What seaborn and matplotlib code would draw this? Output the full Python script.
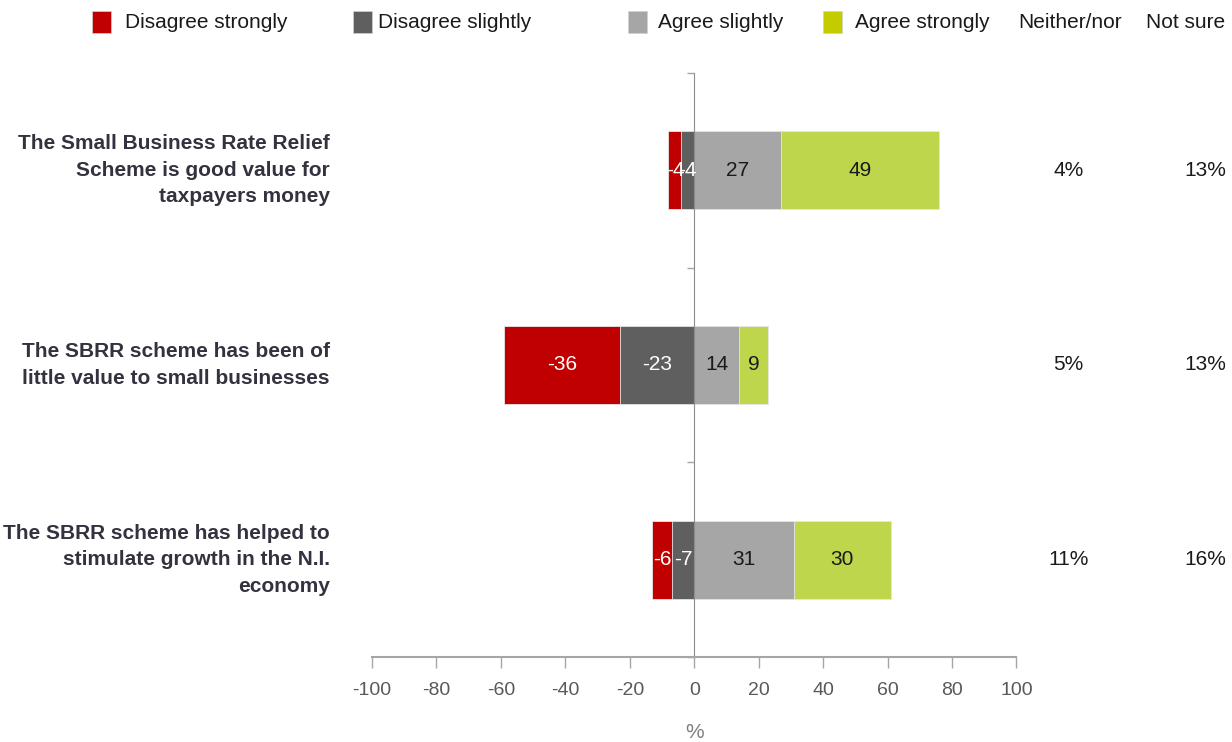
import matplotlib
matplotlib.use("Agg")
import matplotlib.pyplot as plt
import matplotlib.transforms as mtransforms
from matplotlib.patches import Rectangle
import pandas as pd
import seaborn as sns

# Data
statements = [
    "The Small Business Rate Relief\nScheme is good value for\ntaxpayers money",
    "The SBRR scheme has been of\nlittle value to small businesses",
    "The SBRR scheme has helped to\nstimulate growth in the N.I.\neconomy",
]
disagree_strongly = [-4, -36, -6]
disagree_slightly = [-4, -23, -7]
agree_slightly = [27, 14, 31]
agree_strongly = [49, 9, 30]
neither_nor = ["4%", "5%", "11%"]
not_sure = ["13%", "13%", "16%"]

series = ["Disagree strongly", "Disagree slightly", "Agree slightly", "Agree strongly"]
bar_colors = ["#C00000", "#5F5F5F", "#A6A6A6", "#BDD64B"]
legend_colors = ["#C00000", "#5F5F5F", "#A6A6A6", "#C4CC00"]
x_ticks = [-100, -80, -60, -40, -20, 0, 20, 40, 60, 80, 100]

# Style
sns.set_style("white")
plt.rcParams["font.family"] = ["Liberation Sans", "DejaVu Sans"]

df = pd.DataFrame({
    "statement": statements,
    "ds": disagree_strongly,
    "dsl": disagree_slightly,
    "asl": agree_slightly,
    "ast": agree_strongly,
})
df["neg_total"] = df["ds"] + df["dsl"]
df["pos_total"] = df["asl"] + df["ast"]

fig = plt.figure(figsize=(12.32, 7.42), dpi=100)
ax = fig.add_axes([0.302, 0.1146, 0.523, 0.787])

# stacked bars drawn as totals with the inner segment on top
common = dict(y="statement", orient="h", width=0.4, saturation=1, ax=ax,
              edgecolor="#e6e6e6", linewidth=0.6)
sns.barplot(data=df, x="neg_total", color=bar_colors[0], **common)
sns.barplot(data=df, x="dsl", color=bar_colors[1], **common)
sns.barplot(data=df, x="pos_total", color=bar_colors[3], **common)
sns.barplot(data=df, x="asl", color=bar_colors[2], **common)

# segment labels
for i, row in df.iterrows():
    segs = [
        (row["dsl"] + row["ds"] / 2, row["ds"], "white"),
        (row["dsl"] / 2, row["dsl"], "white"),
        (row["asl"] / 2, row["asl"], "#1a1a1a"),
        (row["asl"] + row["ast"] / 2, row["ast"], "#1a1a1a"),
    ]
    for xc, val, col in segs:
        ax.text(xc, i, f"{val:d}", ha="center", va="center", fontsize=15, color=col)

# axes styling
ax.set_xlim(-100, 100)
ax.set_ylim(2.5, -0.5)
ax.set_xticks(x_ticks)
ax.set_xticklabels([str(t) for t in x_ticks], fontsize=14, color="#595959")
ax.set_yticks([-0.5, 0.5, 1.5, 2.5])
ax.set_yticklabels([])
ax.set_xlabel("%", fontsize=15, color="#7f7f7f", labelpad=17)
ax.set_ylabel("")
ax.spines["top"].set_visible(False)
ax.spines["right"].set_visible(False)
ax.spines["left"].set_position(("data", 0))
ax.spines["left"].set_color("#8c8c8c")
ax.spines["bottom"].set_color("#a6a6a6")
ax.spines["bottom"].set_linewidth(1.5)
ax.tick_params(axis="x", bottom=True, direction="out", length=8, width=1,
               color="#a6a6a6", pad=10)
ax.tick_params(axis="y", left=True, direction="out", length=5, width=1,
               color="#a6a6a6")

# category labels
trans = mtransforms.blended_transform_factory(ax.transAxes, ax.transData)
for i, s in enumerate(statements):
    ax.text(-0.066, i, s, transform=trans, ha="right", va="center",
            fontsize=15, fontweight="bold", color="#333340", linespacing=1.5)

# neither/nor and not sure columns
for i in range(len(statements)):
    ax.text(1.081, i, neither_nor[i], transform=trans, ha="center", va="center",
            fontsize=15, color="#1a1a1a")
    ax.text(1.293, i, not_sure[i], transform=trans, ha="center", va="center",
            fontsize=15, color="#1a1a1a")

# legend across the top
sq_x = [92, 353, 628, 823]
txt_x = [125, 378, 658, 855]
for name, col, sx, tx in zip(series, legend_colors, sq_x, txt_x):
    fig.add_artist(Rectangle((sx / 1232, 1 - 33 / 742), 19 / 1232, 22 / 742,
                             transform=fig.transFigure, facecolor=col,
                             edgecolor="#d0d0d0", linewidth=0.5))
    fig.text(tx / 1232, 1 - 22 / 742, name, ha="left", va="center",
             fontsize=15, color="#1a1a1a")
fig.text(1070 / 1232, 1 - 22 / 742, "Neither/nor", ha="center", va="center",
         fontsize=15, color="#1a1a1a")
fig.text(1186 / 1232, 1 - 22 / 742, "Not sure", ha="center", va="center",
         fontsize=15, color="#1a1a1a")

fig.savefig("out.png", dpi=100)
